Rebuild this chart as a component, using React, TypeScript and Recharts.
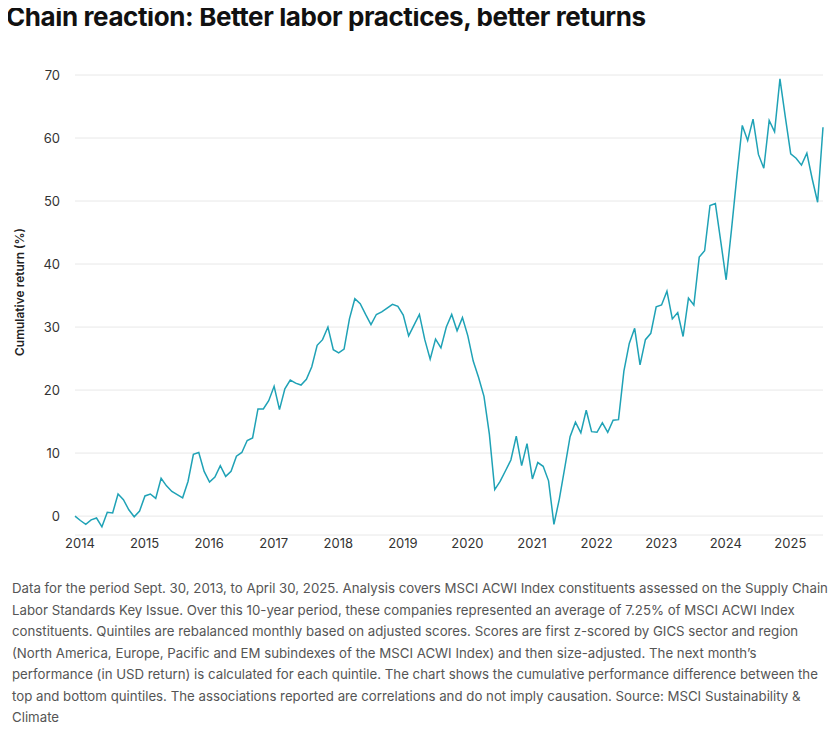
import * as React from 'react';
import { LineChart, Line, XAxis, YAxis, CartesianGrid } from 'recharts';

// Monthly cumulative return spread, Sept 30 2013 -> April 30 2025 (%)
const spread = [
  0, -0.7, -1.3, -0.6, -0.3, -1.7, 0.6, 0.5, 3.5, 2.6, 1.0, -0.1,
  0.8, 3.2, 3.5, 2.8, 6.0, 4.8, 3.9, 3.4, 2.9, 5.5, 9.8, 10.1,
  7.1, 5.4, 6.2, 8.0, 6.3, 7.1, 9.5, 10.1, 12.0, 12.4, 17.0, 17.0,
  18.3, 20.6, 16.9, 20.2, 21.6, 21.1, 20.8, 21.7, 23.7, 27.1, 28.0, 30.0,
  26.4, 25.9, 26.5, 31.3, 34.5, 33.7, 32.0, 30.4, 32.0, 32.4, 33.0, 33.6,
  33.3, 31.9, 28.6, 30.3, 32.0, 28.0, 24.9, 28.1, 26.7, 30.0, 32.0, 29.4,
  31.5, 28.6, 24.6, 22.0, 19.0, 13.0, 4.2, 5.5, 7.2, 8.9, 12.7, 8.0,
  11.5, 5.9, 8.5, 7.9, 5.6, -1.3, 2.7, 7.6, 12.6, 14.9, 13.2, 16.8,
  13.4, 13.3, 14.8, 13.3, 15.2, 15.3, 23.0, 27.4, 29.8, 24.0, 28.0, 29.0,
  33.2, 33.5, 35.7, 31.3, 32.3, 28.5, 34.6, 33.5, 41.1, 42.1, 49.3, 49.6,
  43.6, 37.5, 45.5, 54.0, 62.0, 59.6, 63.0, 57.4, 55.2, 62.8, 61.0, 69.4,
  63.3, 57.5, 56.8, 55.7, 57.6, 53.5, 49.8, 61.7,
];

const yearLabels = ['2014', '2015', '2016', '2017', '2018', '2019', '2020', '2021', '2022', '2023', '2024', '2025'];
const yTicks = [0, 10, 20, 30, 40, 50, 60, 70];

const note =
  'Data for the period Sept. 30, 2013, to April 30, 2025. Analysis covers MSCI ACWI Index constituents assessed on the Supply Chain Labor Standards Key Issue. Over this 10-year period, these companies represented an average of 7.25% of MSCI ACWI Index constituents. Quintiles are rebalanced monthly based on adjusted scores. Scores are first z-scored by GICS sector and region (North America, Europe, Pacific and EM subindexes of the MSCI ACWI Index) and then size-adjusted. The next month\u2019s performance (in USD return) is calculated for each quintile. The chart shows the cumulative performance difference between the top and bottom quintiles. The associations reported are correlations and do not imply causation. Source: MSCI Sustainability & Climate';

const rows = spread.map((v, i) => ({ t: i, v }));
// year labels sit roughly one month after the first data point, then every 12 months
const xTicks = yearLabels.map((_, k) => 0.93 + 12 * k);

const font = 'Inter, "Noto Sans", sans-serif';

export default function App() {
  return (
    <div style={{ position: 'relative', width: 837, height: 732, margin: -8, background: '#fff', fontFamily: font }}>
      <div
        style={{
          position: 'absolute', left: 6, top: 1, fontSize: 26, fontWeight: 700,
          color: '#111', letterSpacing: -0.4, whiteSpace: 'nowrap',
        }}
      >
        Chain reaction: Better labor practices, better returns
      </div>

      <div
        style={{
          position: 'absolute', left: 19, top: 292, transform: 'translate(-50%, -50%) rotate(-90deg)',
          fontSize: 12, fontWeight: 600, color: '#222', whiteSpace: 'nowrap',
        }}
      >
        Cumulative return (%)
      </div>

      <div style={{ position: 'absolute', left: 0, top: 50 }}>
        <LineChart width={837} height={510} data={rows} margin={{ top: 25, right: 14, bottom: 0, left: 15 }}>
          <CartesianGrid vertical={false} stroke="#e8e8e8" />
          <XAxis
            dataKey="t"
            type="number"
            domain={[0, 139]}
            ticks={xTicks}
            interval={0}
            tickFormatter={(_v, k) => yearLabels[k]}
            axisLine={false}
            tickLine={false}
            tickSize={0}
            tickMargin={4}
            height={25}
            tick={{ fill: '#333', fontSize: 13, fontFamily: font }}
          />
          <YAxis
            domain={[-3, 70]}
            ticks={yTicks}
            interval={0}
            axisLine={false}
            tickLine={false}
            tickSize={0}
            tickMargin={15}
            width={60}
            tick={{ fill: '#333', fontSize: 13, fontFamily: font }}
          />
          <Line
            type="linear"
            dataKey="v"
            stroke="#1fa2b6"
            strokeWidth={1.5}
            dot={false}
            isAnimationActive={false}
          />
        </LineChart>
      </div>

      <div
        style={{
          position: 'absolute', left: 12, top: 578, width: 822, fontSize: 13.25,
          lineHeight: '21.5px', color: '#555',
        }}
      >
        {note}
      </div>
    </div>
  );
}
